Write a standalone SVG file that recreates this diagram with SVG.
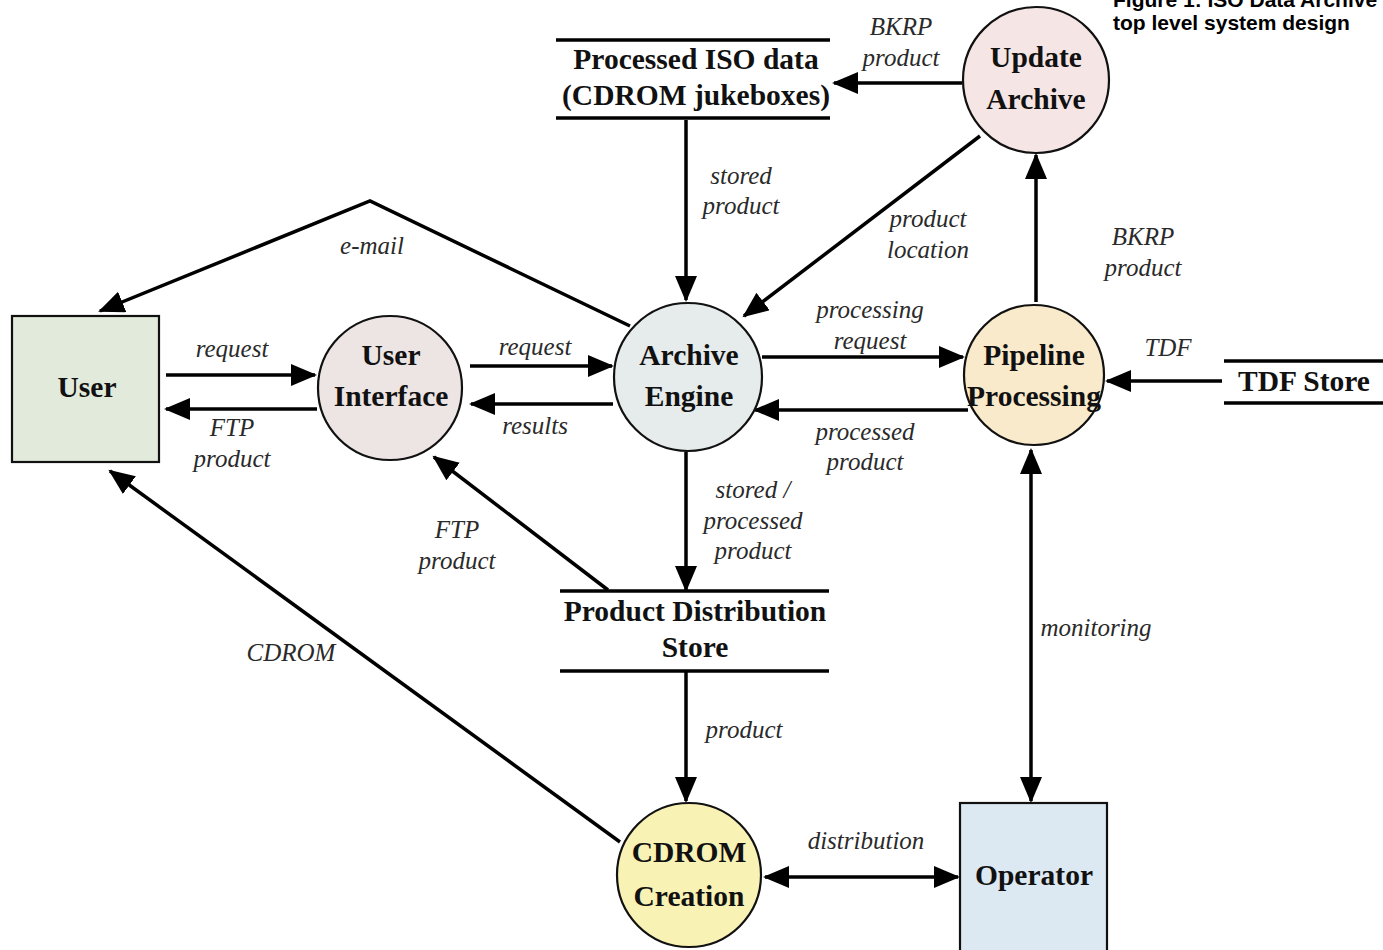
<svg xmlns="http://www.w3.org/2000/svg" width="1383" height="950" viewBox="0 0 1383 950">
<defs>
<marker id="ah" markerUnits="userSpaceOnUse" markerWidth="28" markerHeight="24" refX="24" refY="11" orient="auto-start-reverse" viewBox="0 0 28 24">
<path d="M0,0 L26,11 L0,22 z" fill="#000"/>
</marker>
</defs>
<style>
.node{stroke:#111;stroke-width:2.2}
.nl{font-family:"Liberation Serif",serif;font-weight:bold;font-size:29.5px;fill:#111;text-anchor:middle}
.el{font-family:"Liberation Serif",serif;font-style:italic;font-size:25px;fill:#2a2a2a;text-anchor:middle}
.ca{fill:none;stroke:#000;stroke-width:3.5;marker-end:url(#ah)}
.cb{fill:none;stroke:#000;stroke-width:3.5;marker-end:url(#ah);marker-start:url(#ah)}
.st{stroke:#000;stroke-width:3.5}
.tt{font-family:"Liberation Sans",sans-serif;font-weight:bold;font-size:21px;fill:#000}
</style>
<rect width="1383" height="950" fill="#fff"/>
<g id="title">
<text class="tt" x="1113" y="7">Figure 1: ISO Data Archive</text>
<text class="tt" x="1113" y="30">top level system design</text>
</g>
<g id="connectors">
<line class="ca" x1="686" y1="120" x2="686" y2="300"/>
<line class="ca" x1="962" y1="83" x2="834" y2="83"/>
<line class="ca" x1="980" y1="136" x2="744" y2="316"/>
<line class="ca" x1="1036" y1="302" x2="1036" y2="155"/>
<polyline class="ca" points="630,326 370,201 100,311"/>
<line class="ca" x1="166" y1="375" x2="315" y2="375"/>
<line class="ca" x1="317" y1="409" x2="166" y2="409"/>
<line class="ca" x1="470" y1="366" x2="612" y2="366"/>
<line class="ca" x1="613" y1="404" x2="471" y2="404"/>
<line class="ca" x1="762" y1="357" x2="963" y2="357"/>
<line class="ca" x1="968" y1="410" x2="755" y2="410"/>
<line class="ca" x1="1222" y1="381" x2="1107" y2="381"/>
<line class="ca" x1="686" y1="452" x2="686" y2="590"/>
<line class="ca" x1="608" y1="590" x2="434" y2="457"/>
<line class="ca" x1="686" y1="672" x2="686" y2="801"/>
<line class="ca" x1="620" y1="842" x2="110" y2="471"/>
<line class="cb" x1="765" y1="877" x2="958" y2="877"/>
<line class="cb" x1="1031" y1="450" x2="1031" y2="801"/>
</g>
<g id="edge-labels">
<text class="el" x="741" y="184">stored</text><text class="el" x="741" y="214">product</text>
<text class="el" x="901" y="35">BKRP</text><text class="el" x="901" y="66">product</text>
<text class="el" x="928" y="227">product</text><text class="el" x="928" y="258">location</text>
<text class="el" x="1143" y="245">BKRP</text><text class="el" x="1143" y="276">product</text>
<text class="el" x="372" y="254">e-mail</text>
<text class="el" x="232" y="357">request</text>
<text class="el" x="232" y="436">FTP</text><text class="el" x="232" y="467">product</text>
<text class="el" x="535" y="355">request</text>
<text class="el" x="535" y="434">results</text>
<text class="el" x="870" y="318">processing</text><text class="el" x="870" y="349">request</text>
<text class="el" x="865" y="440">processed</text><text class="el" x="865" y="470">product</text>
<text class="el" x="1168" y="356">TDF</text>
<text class="el" x="753" y="498">stored /</text><text class="el" x="753" y="529">processed</text><text class="el" x="753" y="559">product</text>
<text class="el" x="457" y="538">FTP</text><text class="el" x="457" y="569">product</text>
<text class="el" x="744" y="738">product</text>
<text class="el" x="291" y="661">CDROM</text>
<text class="el" x="866" y="849">distribution</text>
<text class="el" x="1096" y="636">monitoring</text>
</g>
<g id="user">
<rect class="node" x="12" y="316" width="147" height="146" fill="#e2eadb"/>
<text class="nl" x="87" y="397">User</text>
</g>
<g id="user-interface">
<circle class="node" cx="390" cy="388" r="72" fill="#ede4e4"/>
<text class="nl" x="391" y="365">User</text>
<text class="nl" x="391" y="406">Interface</text>
</g>
<g id="archive-engine">
<circle class="node" cx="688" cy="377" r="74" fill="#e6ebeb"/>
<text class="nl" x="689" y="365">Archive</text>
<text class="nl" x="689" y="406">Engine</text>
</g>
<g id="pipeline-processing">
<circle class="node" cx="1034" cy="375" r="70" fill="#f9eacb"/>
<text class="nl" x="1034" y="365">Pipeline</text>
<text class="nl" x="1034" y="406">Processing</text>
</g>
<g id="update-archive">
<circle class="node" cx="1036" cy="80" r="73" fill="#f5e5e4"/>
<text class="nl" x="1036" y="67">Update</text>
<text class="nl" x="1036" y="109">Archive</text>
</g>
<g id="cdrom-creation">
<circle class="node" cx="689" cy="875" r="72" fill="#f8f2b5"/>
<text class="nl" x="689" y="862">CDROM</text>
<text class="nl" x="689" y="906">Creation</text>
</g>
<g id="operator">
<rect class="node" x="960" y="803" width="147" height="150" fill="#dce8f2"/>
<text class="nl" x="1034" y="885">Operator</text>
</g>
<g id="processed-iso-data">
<line class="st" x1="556" y1="40" x2="830" y2="40"/>
<line class="st" x1="556" y1="118" x2="830" y2="118"/>
<text class="nl" x="696" y="69">Processed ISO data</text>
<text class="nl" x="696" y="105">(CDROM jukeboxes)</text>
</g>
<g id="product-distribution-store">
<line class="st" x1="560" y1="591" x2="829" y2="591"/>
<line class="st" x1="560" y1="671" x2="829" y2="671"/>
<text class="nl" x="695" y="621">Product Distribution</text>
<text class="nl" x="695" y="657">Store</text>
</g>
<g id="tdf-store">
<line class="st" x1="1224" y1="361" x2="1383" y2="361"/>
<line class="st" x1="1224" y1="403" x2="1383" y2="403"/>
<text class="nl" x="1304" y="391">TDF Store</text>
</g>
</svg>
